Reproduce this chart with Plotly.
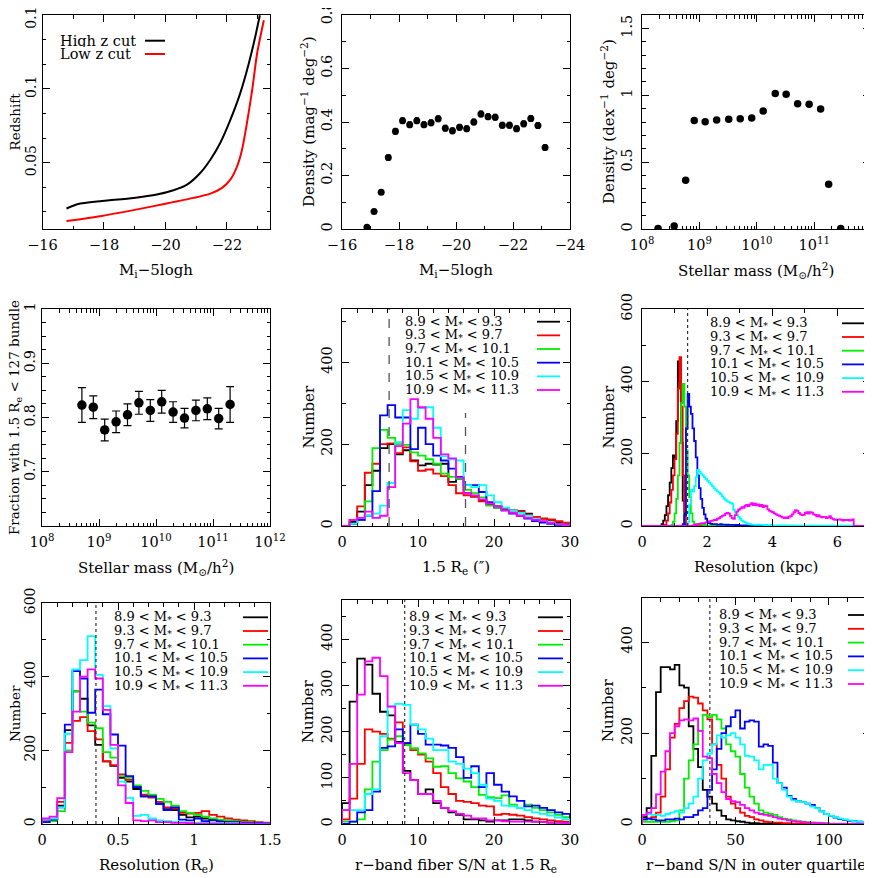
import plotly.graph_objects as go

# ======================= DATA =======================
# Panel 1: redshift cut vs absolute magnitude
p1_high_mag = [-16.78, -17.16, -17.87, -18.96, -19.72, -20.26, -20.70, -21.13, -21.46, -21.78, -22.11, -22.43, -22.71, -22.92, -23.07]
p1_high_z = [0.0189, 0.0220, 0.0239, 0.0261, 0.0284, 0.0313, 0.0351, 0.0430, 0.0520, 0.0633, 0.0790, 0.0970, 0.1173, 0.1354, 0.1500]
p1_low_mag = [-16.78, -17.87, -18.96, -20.04, -20.91, -21.46, -21.84, -22.11, -22.33, -22.49, -22.65, -22.82, -22.98, -23.20]
p1_low_z = [0.0104, 0.0137, 0.0178, 0.0223, 0.0261, 0.0290, 0.0329, 0.0385, 0.0475, 0.0588, 0.0768, 0.0993, 0.1241, 0.1466]
p1_labels = ["High z cut", "Low z cut"]

# Panel 2: density vs magnitude
p2_mag = [-16.875, -17.125, -17.375, -17.625, -17.875, -18.125, -18.375, -18.625, -18.875, -19.125,
          -19.375, -19.625, -19.875, -20.125, -20.375, -20.625, -20.875, -21.125, -21.375, -21.625,
          -21.875, -22.125, -22.375, -22.625, -22.875, -23.125]
p2_density = [0.007, 0.065, 0.137, 0.267, 0.365, 0.405, 0.390, 0.405, 0.390, 0.397,
              0.412, 0.377, 0.367, 0.380, 0.375, 0.400, 0.430, 0.420, 0.418, 0.388,
              0.388, 0.375, 0.393, 0.413, 0.387, 0.305]
p2_err = [0.003, 0.006, 0.008, 0.010, 0.011, 0.011, 0.011, 0.011, 0.011, 0.011,
          0.011, 0.011, 0.011, 0.011, 0.011, 0.011, 0.011, 0.011, 0.011, 0.011,
          0.011, 0.011, 0.011, 0.011, 0.011, 0.010]

# Panel 3: density vs stellar mass (log10 M)
p3_logmass = [8.28, 8.56, 8.76, 8.91, 9.10, 9.30, 9.51, 9.71, 9.91, 10.11, 10.32, 10.51, 10.71, 10.91, 11.11, 11.25, 11.46]
p3_density = [0.004, 0.022, 0.364, 0.812, 0.802, 0.815, 0.820, 0.825, 0.830, 0.882, 1.014, 1.007, 0.937, 0.932, 0.897, 0.334, 0.003]

# Panel 4: fraction with 1.5 Re < 127 bundle
p4_logmass = [8.7, 8.9, 9.1, 9.3, 9.5, 9.7, 9.9, 10.1, 10.3, 10.5, 10.7, 10.9, 11.1, 11.3]
p4_frac = [0.823, 0.819, 0.777, 0.792, 0.805, 0.827, 0.813, 0.829, 0.810, 0.799, 0.813, 0.816, 0.798, 0.824]
p4_err = [0.032, 0.021, 0.020, 0.020, 0.020, 0.021, 0.020, 0.021, 0.019, 0.018, 0.019, 0.020, 0.019, 0.033]

# Mass-bin series (shared by histogram panels)
series_labels = ["8.9 &lt; M<sub>*</sub> &lt; 9.3", "9.3 &lt; M<sub>*</sub> &lt; 9.7", "9.7 &lt; M<sub>*</sub> &lt; 10.1",
                 "10.1 &lt; M<sub>*</sub> &lt; 10.5", "10.5 &lt; M<sub>*</sub> &lt; 10.9", "10.9 &lt; M<sub>*</sub> &lt; 11.3"]
series_colors = ["#000000", "#ff0000", "#00ee00", "#0000ff", "#00ffff", "#ff00ff"]

# Panel 5: 1.5 Re (arcsec), bins of width 1 from 0
p5_bin_start, p5_bin_width = 0.0, 1.0
p5_black = [0, 10, 35, 100, 135, 190, 200, 175, 185, 160, 148, 152, 150, 152, 108, 115, 80, 72, 62, 52, 45, 40, 38, 36, 30, 22, 18, 15, 8, 5]
p5_red = [0, 15, 48, 130, 152, 200, 202, 178, 192, 158, 135, 138, 128, 122, 100, 80, 75, 72, 60, 55, 48, 42, 38, 35, 28, 22, 18, 16, 12, 8]
p5_green = [0, 5, 15, 60, 190, 235, 215, 200, 198, 180, 172, 163, 152, 128, 120, 115, 88, 80, 70, 50, 45, 38, 32, 25, 20, 15, 12, 8, 5, 3]
p5_blue = [0, 5, 15, 25, 85, 270, 295, 265, 265, 188, 240, 200, 172, 160, 140, 120, 100, 100, 83, 58, 48, 38, 30, 25, 18, 12, 8, 5, 3, 2]
p5_cyan = [0, 5, 20, 25, 30, 50, 105, 205, 283, 262, 288, 290, 240, 170, 163, 160, 100, 95, 100, 75, 58, 45, 38, 32, 25, 18, 12, 8, 5, 3]
p5_magenta = [0, 15, 20, 35, 20, 25, 95, 195, 250, 310, 290, 262, 215, 175, 165, 118, 80, 75, 65, 55, 48, 38, 32, 25, 20, 15, 12, 8, 5, 3]
p5_cut_full = 6.2
p5_cut_partial = 16.25
p5_cut_partial_top = 276

# Panel 6: resolution (kpc), bins of width 0.05 on [0, 7]; non-zero segments with start edge
p6_bin_width, p6_nbins = 0.05, 140
p6_black_start = 0.60
p6_black = [5, 15, 30, 55, 85, 120, 160, 195, 185, 290, 455, 400, 230, 70, 10]
p6_red_start = 0.70
p6_red = [3, 15, 35, 65, 100, 140, 185, 255, 380, 467, 330, 140, 40, 8]
p6_green_start = 0.90
p6_green = [3, 12, 35, 75, 140, 230, 340, 393, 330, 210, 140, 80, 35, 12, 6, 5, 5, 4, 4, 3, 3, 2]
p6_blue_start = 1.25
p6_blue = [5, 30, 270, 365, 330, 310, 270, 235, 190, 140, 105, 75, 50, 32, 20, 12, 8, 6, 5, 5,
           5, 4, 4, 5, 4, 4, 3, 4, 3, 3, 3, 3, 2, 3, 2, 2, 2, 2, 2, 2]
p6_cyan_start = 1.40
p6_cyan = [10, 60, 100, 95, 110, 135, 155, 150, 145, 140, 135, 130, 125, 120, 115, 110, 105, 100, 96, 92,
           88, 82, 76, 72, 68, 66, 64, 62, 45, 38, 30, 25, 20, 15, 12, 10, 8, 6, 5, 4,
           4, 3, 3, 4, 3, 3, 3, 2, 3, 2, 2, 3, 2, 2, 2, 2, 2, 1, 2, 2,
           1, 2, 1, 1, 2, 1, 1, 1, 1, 1, 1, 1, 1, 1, 1, 1, 1, 1, 1, 1,
           1, 1, 1, 1, 1, 1, 1, 1, 1, 1, 1, 1, 1, 1, 1, 1, 1, 1, 1, 1, 1, 1]
p6_magenta_start = 1.55
p6_magenta = [2, 3, 4, 5, 6, 7, 8, 8, 10, 12, 12, 14, 15, 17, 16, 20, 22, 25, 28, 30,
              34, 36, 35, 28, 22, 20, 30, 40, 45, 48, 52, 50, 56, 58, 55, 60, 63, 58, 62, 57,
              60, 55, 58, 52, 56, 55, 46, 42, 40, 38, 35, 32, 30, 28, 26, 24, 22, 24, 22, 26,
              27, 32, 38, 44, 42, 36, 32, 30, 31, 36, 38, 34, 38, 37, 32, 31, 27, 30, 26, 24,
              25, 25, 22, 24, 27, 22, 19, 17, 18, 18, 18, 17, 15, 17, 16, 17, 15, 16, 18]
p6_cut = 1.40

# Panel 7: resolution (Re), bins of width 0.05 from 0
p7_bin_start, p7_bin_width = 0.0, 0.05
p7_black = [5, 10, 50, 255, 360, 340, 268, 215, 170, 158, 125, 115, 95, 75, 75, 55, 40, 38, 25, 18, 20, 15, 12, 10, 8, 7, 5, 4, 3, 2]
p7_red = [10, 12, 60, 220, 280, 290, 252, 230, 170, 160, 135, 120, 100, 80, 72, 60, 45, 42, 30, 28, 30, 35, 25, 20, 15, 12, 10, 8, 5, 4]
p7_green = [5, 8, 35, 200, 360, 305, 275, 260, 195, 180, 130, 125, 105, 90, 80, 68, 60, 50, 35, 30, 25, 20, 15, 12, 10, 8, 6, 5, 4, 3]
p7_blue = [5, 12, 45, 270, 415, 395, 302, 365, 298, 243, 213, 130, 100, 75, 75, 55, 38, 45, 12, 10, 15, 8, 10, 6, 5, 5, 4, 3, 3, 2]
p7_cyan = [12, 15, 45, 245, 420, 445, 510, 405, 320, 205, 115, 71, 22, 25, 15, 10, 8, 6, 5, 4, 4, 3, 3, 2, 2, 2, 1, 1, 1, 1]
p7_magenta = [15, 20, 70, 195, 305, 400, 420, 395, 310, 215, 105, 57, 10, 8, 10, 5, 5, 3, 3, 2, 1, 1, 1, 0, 0, 0, 0, 0, 0, 0]
p7_cut = 0.355

# Panel 8: r-band fiber S/N at 1.5 Re, bins of width 1 from 0
p8_bin_start, p8_bin_width = 0.0, 1.0
p8_black = [45, 265, 358, 345, 282, 243, 235, 178, 115, 95, 65, 75, 45, 35, 25, 20, 10, 10, 8, 5, 8, 8, 10, 10, 8, 5, 4, 3, 3, 2]
p8_red = [10, 55, 130, 205, 200, 195, 185, 220, 175, 160, 150, 135, 110, 80, 65, 50, 48, 45, 40, 38, 20, 22, 20, 18, 15, 12, 10, 8, 6, 5]
p8_green = [5, 5, 10, 75, 135, 160, 183, 190, 171, 164, 153, 142, 124, 125, 110, 99, 92, 80, 63, 58, 56, 62, 42, 35, 42, 35, 30, 25, 20, 15]
p8_blue = [0, 5, 25, 30, 70, 165, 168, 205, 175, 215, 195, 172, 172, 170, 165, 145, 100, 125, 80, 110, 85, 70, 60, 50, 38, 40, 35, 30, 25, 22]
p8_cyan = [30, 30, 30, 65, 75, 190, 255, 260, 258, 215, 205, 185, 160, 160, 135, 130, 120, 110, 85, 55, 50, 40, 38, 35, 30, 25, 22, 18, 14, 10]
p8_magenta = [30, 130, 280, 352, 360, 320, 254, 175, 110, 95, 65, 65, 50, 35, 28, 22, 18, 12, 12, 8, 8, 6, 5, 5, 5, 5, 4, 3, 3, 2]
p8_cut = 8.25

# Panel 9: r-band S/N in outer quartile, bins of width 2.5 from 0
p9_bin_start, p9_bin_width = 0.0, 2.5
p9_black = [15, 35, 150, 290, 345, 345, 340, 350, 305, 300, 215, 165, 125, 75, 60, 45, 30, 18, 10, 8,
            6, 5, 3, 2, 2, 1, 1, 1, 1, 0, 0, 0, 0, 0, 0, 0, 0, 0, 0, 0, 0, 0, 0, 0, 0, 0, 0, 0, 0, 0]
p9_red = [10, 12, 15, 25, 60, 120, 190, 220, 255, 270, 280, 278, 265, 250, 230, 175, 130, 100, 60, 45,
          35, 25, 18, 15, 10, 8, 5, 4, 3, 3, 2, 2, 1, 1, 1, 1, 0, 0, 0, 0, 0, 0, 0, 0, 0, 0, 0, 0, 0, 0]
p9_green = [5, 5, 5, 5, 5, 5, 6, 8, 30, 100, 140, 175, 205, 240, 235, 240, 230, 210, 175, 160,
            148, 110, 80, 60, 45, 30, 25, 22, 20, 15, 12, 10, 8, 6, 5, 4, 3, 3, 2, 2, 1, 1, 1, 1, 0, 0, 0, 0, 0, 0]
p9_blue = [10, 12, 10, 8, 8, 10, 10, 12, 10, 15, 15, 20, 30, 35, 75, 120, 165, 200, 215, 235,
           250, 210, 225, 228, 225, 170, 175, 172, 135, 90, 80, 62, 55, 50, 48, 45, 42, 35, 28, 22,
           18, 14, 11, 9, 7, 6, 5, 4, 4, 3]
p9_cyan = [20, 22, 20, 20, 18, 22, 25, 28, 25, 35, 45, 60, 100, 140, 155, 175, 195, 190, 195, 200,
           190, 175, 150, 148, 140, 120, 130, 130, 100, 90, 75, 60, 52, 50, 48, 45, 38, 35, 28, 22,
           18, 15, 12, 10, 8, 6, 5, 4, 4, 3]
p9_magenta = [20, 25, 35, 65, 115, 160, 200, 215, 228, 230, 228, 232, 205, 148, 145, 110, 90, 70, 55, 50,
              48, 42, 35, 30, 25, 22, 20, 18, 15, 12, 10, 8, 6, 5, 4, 3, 3, 2, 2, 1,
              0, 0, 0, 0, 0, 0, 0, 0, 0, 0]
p9_cut = 36.3

# Tick values / labels
p1_yticks = [0.05, 0.1, 0.15]
p2_yticks = [0, 0.2, 0.4, 0.6, 0.8]
p3_yticks = [0, 0.5, 1, 1.5]
p4_yticks = [0.7, 0.8, 0.9, 1.0]
log_major = [1e8, 1e9, 1e10, 1e11, 1e12]
log_text = ["10<sup>8</sup>", "10<sup>9</sup>", "10<sup>10</sup>", "10<sup>11</sup>", "10<sup>12</sup>"]

# ======================= LAYOUT HELPERS =======================
PAGE_W, PAGE_H = 872, 878
OFF = 8  # page body margin of the html document
W, H = PAGE_W - OFF, PAGE_H - OFF
FONT = "DejaVu Serif"
FS = 14.5


def px(x):
    return (x - OFF) / W


def py(y):
    return 1 - (y - OFF) / H


# panel boxes in page pixels: (left, right), (top, bottom)
boxes = {
    1: ((42.5, 270), (15, 229)), 2: ((342, 570), (15, 229)), 3: ((642, 870), (15, 229)),
    4: ((42, 270), (309, 526)), 5: ((342, 570), (309, 526)), 6: ((642, 870), (309, 526)),
    7: ((42, 270), (603, 824)), 8: ((342, 570), (600, 824)), 9: ((642, 870), (598, 824)),
}


def ax_names(i):
    return ("x" if i == 1 else f"x{i}"), ("y" if i == 1 else f"y{i}")


def step_xy(start, width, counts):
    edges = [start + width * k for k in range(len(counts) + 1)]
    return [edges[0]] + edges, [0] + list(counts) + [0]


def full_counts(start, seg, width, nbins):
    out = [0] * nbins
    i0 = int(round(start / width))
    for k, v in enumerate(seg):
        if 0 <= i0 + k < nbins:
            out[i0 + k] = v
    return out


fig = go.Figure()

# ---------- Panel 1 ----------
fig.add_trace(go.Scatter(x=p1_high_mag, y=p1_high_z, mode="lines", line=dict(color="black", width=2, shape="spline", smoothing=0.6),
                         xaxis="x", yaxis="y", showlegend=False))
fig.add_trace(go.Scatter(x=p1_low_mag, y=p1_low_z, mode="lines", line=dict(color="#ff0000", width=2, shape="spline", smoothing=0.6),
                         xaxis="x", yaxis="y", showlegend=False))

# ---------- Panel 2 ----------
fig.add_trace(go.Scatter(x=p2_mag, y=p2_density, mode="markers", marker=dict(color="black", size=7),
                         error_y=dict(type="data", array=p2_err, color="black", thickness=1, width=2),
                         xaxis="x2", yaxis="y2", showlegend=False))

# ---------- Panel 3 ----------
fig.add_trace(go.Scatter(x=[10 ** m for m in p3_logmass], y=p3_density, mode="markers", marker=dict(color="black", size=7.5),
                         xaxis="x3", yaxis="y3", showlegend=False))

# ---------- Panel 4 ----------
fig.add_trace(go.Scatter(x=[10 ** m for m in p4_logmass], y=p4_frac, mode="markers", marker=dict(color="black", size=9.5),
                         error_y=dict(type="data", array=p4_err, color="black", thickness=1.2, width=4),
                         xaxis="x4", yaxis="y4", showlegend=False))

# ---------- Histogram panels ----------
hist_panels = {
    5: (p5_bin_start, p5_bin_width, [p5_black, p5_red, p5_green, p5_blue, p5_cyan, p5_magenta]),
    6: (0.0, p6_bin_width, [full_counts(p6_black_start, p6_black, p6_bin_width, p6_nbins),
                            full_counts(p6_red_start, p6_red, p6_bin_width, p6_nbins),
                            full_counts(p6_green_start, p6_green, p6_bin_width, p6_nbins),
                            full_counts(p6_blue_start, p6_blue, p6_bin_width, p6_nbins),
                            full_counts(p6_cyan_start, p6_cyan, p6_bin_width, p6_nbins),
                            full_counts(p6_magenta_start, p6_magenta, p6_bin_width, p6_nbins)]),
    7: (p7_bin_start, p7_bin_width, [p7_black, p7_red, p7_green, p7_blue, p7_cyan, p7_magenta]),
    8: (p8_bin_start, p8_bin_width, [p8_black, p8_red, p8_green, p8_blue, p8_cyan, p8_magenta]),
    9: (p9_bin_start, p9_bin_width, [p9_black, p9_red, p9_green, p9_blue, p9_cyan, p9_magenta]),
}
for i, (start, width, series) in hist_panels.items():
    xa, ya = ax_names(i)
    for s, col in zip(series, series_colors):
        xs, ys = step_xy(start, width, s)
        fig.add_trace(go.Scatter(x=xs, y=ys, mode="lines", line=dict(color=col, width=1.8, shape="hv"),
                                 xaxis=xa, yaxis=ya, showlegend=False))

# ---------- Axes ----------
def make_axis(i, is_x, rng, **kw):
    (l, r), (t, b) = boxes[i]
    minor = kw.pop("minor", {})
    d = dict(showline=True, linecolor="black", linewidth=1, mirror="ticks",
             ticks="inside", ticklen=7, tickwidth=1, tickcolor="black",
             showgrid=False, zeroline=False, range=rng, autorange=False, automargin=False,
             tickfont=dict(family=FONT, size=FS, color="black"),
             ticklabelstandoff=3, ticklabeloverflow="allow",
             minor=dict(ticks="inside", ticklen=3.5, tickwidth=1, tickcolor="black", showgrid=False, **minor))
    if is_x:
        d.update(domain=[px(l), px(r)], anchor=ax_names(i)[1])
    else:
        d.update(domain=[py(b), py(t)], anchor=ax_names(i)[0], tickangle=-90)
        if l < 100:
            d.update(ticklabelstandoff=0, tickfont=dict(family=FONT, size=14, color="black"))
    d.update(kw)
    return d


log_minor = [k * 10 ** n for n in range(8, 12) for k in range(2, 10)]


def fmt(v):
    return ("%g" % v)


axes = {}
axes["xaxis"] = make_axis(1, True, [-16, -23.4], tick0=-16, dtick=2, minor=dict(dtick=1, tick0=-16))
axes["yaxis"] = make_axis(1, False, [0.005, 0.1502], tickvals=p1_yticks, ticktext=[fmt(v) for v in p1_yticks],
                          minor=dict(dtick=0.05 / 3, tick0=0))
axes["xaxis2"] = make_axis(2, True, [-16, -24], tick0=-16, dtick=2, minor=dict(dtick=1, tick0=-16))
axes["yaxis2"] = make_axis(2, False, [0, 0.8], tickvals=p2_yticks, ticktext=[fmt(v) for v in p2_yticks],
                           minor=dict(dtick=0.1, tick0=0))
axes["xaxis3"] = make_axis(3, True, [8, 11.97], type="log", tickvals=log_major[:4], ticktext=log_text[:4],
                           minor=dict(tickmode="array", tickvals=log_minor))
axes["yaxis3"] = make_axis(3, False, [0, 1.6], tickvals=p3_yticks, ticktext=[fmt(v) for v in p3_yticks],
                           minor=dict(dtick=0.1, tick0=0))
axes["xaxis4"] = make_axis(4, True, [8, 12], type="log", tickvals=log_major, ticktext=log_text,
                           minor=dict(tickmode="array", tickvals=log_minor))
axes["yaxis4"] = make_axis(4, False, [0.6, 1.0], tickvals=p4_yticks, ticktext=[fmt(v) for v in p4_yticks],
                           minor=dict(dtick=0.025, tick0=0.6))
axes["xaxis5"] = make_axis(5, True, [0, 30], tick0=0, dtick=10, minor=dict(dtick=2, tick0=0))
axes["yaxis5"] = make_axis(5, False, [0, 530], tick0=0, dtick=200, minor=dict(dtick=100, tick0=0))
axes["xaxis6"] = make_axis(6, True, [0, 7], tick0=0, dtick=2, minor=dict(dtick=1, tick0=0))
axes["yaxis6"] = make_axis(6, False, [0, 600], tick0=0, dtick=200, minor=dict(dtick=100, tick0=0))
axes["xaxis7"] = make_axis(7, True, [0, 1.5], tick0=0, dtick=0.5, minor=dict(dtick=0.1, tick0=0))
axes["yaxis7"] = make_axis(7, False, [0, 600], tick0=0, dtick=200, minor=dict(dtick=100, tick0=0))
axes["xaxis8"] = make_axis(8, True, [0, 30], tick0=0, dtick=10, minor=dict(dtick=2, tick0=0))
axes["yaxis8"] = make_axis(8, False, [0, 485], tick0=0, dtick=100, minor=dict(dtick=50, tick0=0))
axes["xaxis9"] = make_axis(9, True, [0, 122], tick0=0, dtick=50, minor=dict(dtick=10, tick0=0))
axes["yaxis9"] = make_axis(9, False, [0, 497], tick0=0, dtick=200, minor=dict(dtick=100, tick0=0))

# ---------- Reference lines ----------
shapes = []
shapes.append(dict(type="line", xref="x5", yref="y5 domain", x0=p5_cut_full, x1=p5_cut_full, y0=0, y1=1,
                   line=dict(color="#555555", width=1.3, dash="dash")))
shapes.append(dict(type="line", xref="x5", yref="y5", x0=p5_cut_partial, x1=p5_cut_partial, y0=0, y1=p5_cut_partial_top,
                   line=dict(color="#555555", width=1.3, dash="dash")))
for i, v in [(6, p6_cut), (7, p7_cut), (8, p8_cut), (9, p9_cut)]:
    xa, ya = ax_names(i)
    shapes.append(dict(type="line", xref=xa, yref=f"{ya} domain", x0=v, x1=v, y0=0, y1=1,
                       line=dict(color="#333333", width=1.2, dash="dot")))

# ---------- Titles (annotations) ----------
annotations = []
titles = {
    1: ("M<sub>i</sub>−5logh", "Redshift"),
    2: ("M<sub>i</sub>−5logh", "Density (mag<sup>−1</sup> deg<sup>−2</sup>)"),
    3: ("Stellar mass (M<sub>⊙</sub>/h<sup>2</sup>)", "Density (dex<sup>−1</sup> deg<sup>−2</sup>)"),
    4: ("Stellar mass (M<sub>⊙</sub>/h<sup>2</sup>)", "Fraction with 1.5 R<sub>e</sub> &lt; 127 bundle"),
    5: ("1.5 R<sub>e</sub> (″)", "Number"),
    6: ("Resolution (kpc)", "Number"),
    7: ("Resolution (R<sub>e</sub>)", "Number"),
    8: ("r−band fiber S/N at 1.5 R<sub>e</sub>", "Number"),
    9: ("r−band S/N in outer quartile", "Number"),
}
tfont = dict(family=FONT, size=15, color="black")
tfont_left = dict(family=FONT, size=13.5, color="black")
for i, (xt, yt) in titles.items():
    (l, r), (t, b) = boxes[i]
    annotations.append(dict(text=xt, xref="paper", yref="paper", x=px((l + r) / 2), y=py(b + 41),
                            xanchor="center", yanchor="middle", showarrow=False, font=tfont))
    left_col = l < 100
    annotations.append(dict(text=yt, xref="paper", yref="paper", x=px(14.5 if left_col else l - 34), y=py((t + b) / 2),
                            xanchor="center", yanchor="middle", showarrow=False,
                            font=tfont_left if left_col else tfont, textangle=-90))

# ---------- Legends ----------
lfont = dict(family=FONT, size=13, color="black")
# panel 1
for k, (lab, col) in enumerate(zip(p1_labels, ["black", "#ff0000"])):
    yy = 40.7 + 13.3 * k
    annotations.append(dict(text=lab, xref="paper", yref="paper", x=px(58), y=py(yy), xanchor="left", yanchor="middle",
                            showarrow=False, font=dict(family=FONT, size=14.5, color="black"), height=12))
    shapes.append(dict(type="line", xref="paper", yref="paper", x0=px(145), x1=px(165), y0=py(yy), y1=py(yy),
                       line=dict(color=col, width=2)))

legend_pos = {  # text-left px, first-row y px, row step, line x0, line x1
    5: (403, 321.7, 13.66, 537, 560),
    6: (708, 323.3, 13.7, 842, 865),
    7: (112, 617.3, 13.7, 243, 268),
    8: (407, 617.3, 13.7, 538, 563),
    9: (717, 615, 13.8, 848, 868),
}
for i, (tx, y0, dy, lx0, lx1) in legend_pos.items():
    for k, (lab, col) in enumerate(zip(series_labels, series_colors)):
        yy = y0 + dy * k
        annotations.append(dict(text=lab, xref="paper", yref="paper", x=px(tx), y=py(yy), xanchor="left",
                                yanchor="middle", showarrow=False, font=lfont, height=12))
        shapes.append(dict(type="line", xref="paper", yref="paper", x0=px(lx0), x1=px(lx1), y0=py(yy), y1=py(yy),
                           line=dict(color=col, width=1.8)))

fig.update_layout(width=W, height=H, margin=dict(l=0, r=0, t=0, b=0, autoexpand=False),
                  paper_bgcolor="white", plot_bgcolor="white",
                  font=dict(family=FONT, size=FS, color="black"),
                  shapes=shapes, annotations=annotations, showlegend=False, **axes)

fig.write_html("out.html")
